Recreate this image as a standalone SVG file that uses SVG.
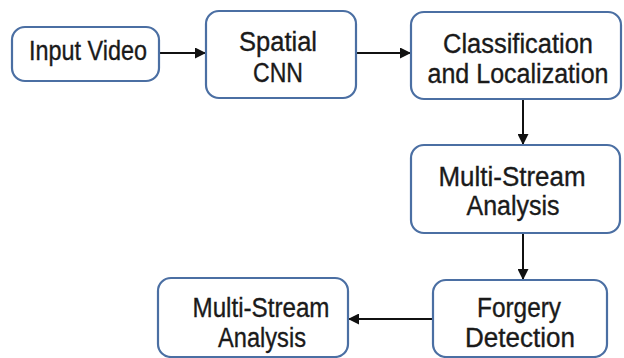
<svg xmlns="http://www.w3.org/2000/svg" width="624" height="358" viewBox="0 0 624 358">
<style>
.box{fill:#fff;stroke:#4b6fa3;stroke-width:2.2}
.t{font-family:"Liberation Sans",Arial,sans-serif;font-size:27px;fill:#1a1a1a;stroke:#1a1a1a;stroke-width:0.35;text-anchor:middle}
.c{stroke:#111;stroke-width:2;fill:none}
</style>
<defs>
<marker id="ah" viewBox="0 0 10 10" refX="10" refY="5" markerWidth="11" markerHeight="11" markerUnits="userSpaceOnUse" orient="auto">
<path d="M0,0 L10,5 L0,10 Z" fill="#111"/>
</marker>
</defs>
<rect width="624" height="358" fill="#fff"/>
<g id="connectors">
<line class="c" x1="160" y1="53" x2="206" y2="53" marker-end="url(#ah)"/>
<line class="c" x1="356" y1="53" x2="411" y2="53" marker-end="url(#ah)"/>
<line class="c" x1="523" y1="99" x2="523" y2="145" marker-end="url(#ah)"/>
<line class="c" x1="523" y1="233" x2="523" y2="280" marker-end="url(#ah)"/>
<line class="c" x1="433" y1="319" x2="348" y2="319" marker-end="url(#ah)"/>
</g>
<g id="input-video">
<rect class="box" x="12" y="27" width="147" height="54" rx="13"/>
<text class="t" x="88" y="60" textLength="118" lengthAdjust="spacingAndGlyphs">Input Video</text>
</g>
<g id="spatial-cnn">
<rect class="box" x="206" y="11" width="150" height="87" rx="13"/>
<text class="t" x="278" y="51" textLength="78" lengthAdjust="spacingAndGlyphs">Spatial</text>
<text class="t" x="278" y="82" textLength="50" lengthAdjust="spacingAndGlyphs">CNN</text>
</g>
<g id="classification">
<rect class="box" x="411" y="12" width="210" height="87" rx="13"/>
<text class="t" x="518" y="53" textLength="150" lengthAdjust="spacingAndGlyphs">Classification</text>
<text class="t" x="518" y="83" textLength="181" lengthAdjust="spacingAndGlyphs">and Localization</text>
</g>
<g id="multi-stream-1">
<rect class="box" x="411" y="145" width="209" height="88" rx="13"/>
<text class="t" x="512" y="186" textLength="147" lengthAdjust="spacingAndGlyphs">Multi-Stream</text>
<text class="t" x="513" y="215" textLength="93" lengthAdjust="spacingAndGlyphs">Analysis</text>
</g>
<g id="forgery-detection">
<rect class="box" x="433" y="280" width="174" height="77" rx="13"/>
<text class="t" x="519" y="317" textLength="84" lengthAdjust="spacingAndGlyphs">Forgery</text>
<text class="t" x="520" y="347" textLength="110" lengthAdjust="spacingAndGlyphs">Detection</text>
</g>
<g id="multi-stream-2">
<rect class="box" x="158" y="278" width="190" height="79" rx="13"/>
<text class="t" x="261" y="317" textLength="137" lengthAdjust="spacingAndGlyphs">Multi-Stream</text>
<text class="t" x="262" y="347" textLength="88" lengthAdjust="spacingAndGlyphs">Analysis</text>
</g>
</svg>
